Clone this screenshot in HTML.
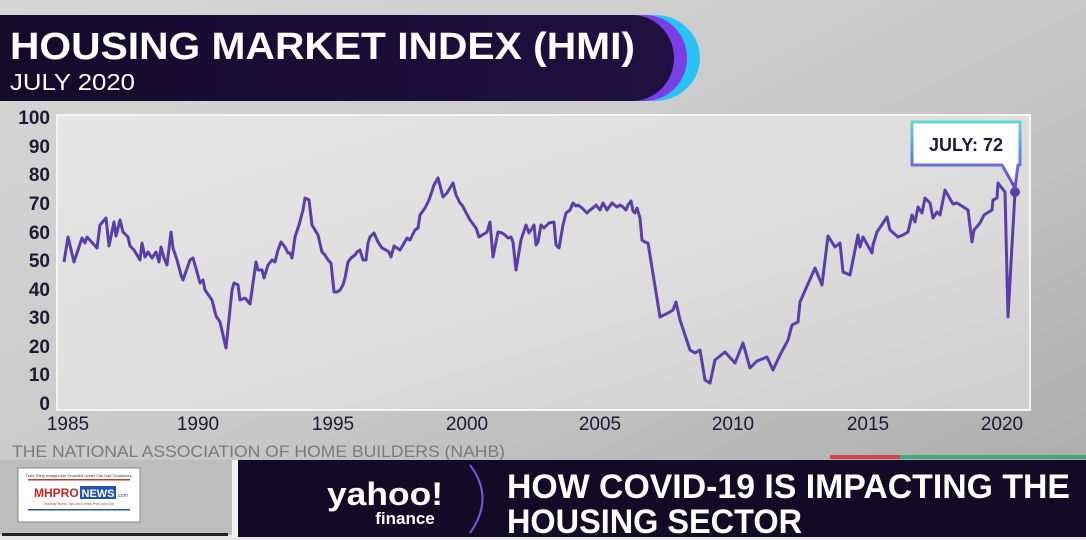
<!DOCTYPE html>
<html><head><meta charset="utf-8"><style>
html,body{margin:0;padding:0;width:1086px;height:540px;overflow:hidden;background:#c4c4c4}
svg{display:block}
text{font-family:"Liberation Sans",sans-serif}
</style></head><body>
<svg width="1086" height="540" viewBox="0 0 1086 540" xmlns="http://www.w3.org/2000/svg">
<defs>
<linearGradient id="bg" x1="0" y1="0" x2="1" y2="1">
<stop offset="0" stop-color="#d6d6d6"/><stop offset="0.5" stop-color="#c9c9c9"/><stop offset="1" stop-color="#a9a9a9"/>
</linearGradient>
<linearGradient id="plot" x1="0" y1="0" x2="1" y2="1">
<stop offset="0" stop-color="#e6e6e6"/><stop offset="0.6" stop-color="#dcdcdc"/><stop offset="1" stop-color="#cfcfcf"/>
</linearGradient>
<linearGradient id="ban" x1="0" y1="0" x2="1" y2="0">
<stop offset="0" stop-color="#140b2b"/><stop offset="1" stop-color="#1f1040"/>
</linearGradient>
<linearGradient id="cb" x1="0" y1="0" x2="0" y2="1">
<stop offset="0" stop-color="#5fd6d6"/><stop offset="1" stop-color="#6a3fd0"/>
</linearGradient>
</defs>
<rect width="1086" height="540" fill="url(#bg)"/>
<!-- title banner -->
<path d="M0 15 H655 A45 43 0 0 1 655 101 H0 Z" fill="#29c4f5"/>
<path d="M0 15 H645 A42 43 0 0 1 645 101 H0 Z" fill="#7a3ee8"/>
<path d="M0 15 H632 A42 43 0 0 1 632 101 H0 Z" fill="url(#ban)"/>
<text x="10" y="59" font-size="38" font-weight="bold" fill="#fff" textLength="625" lengthAdjust="spacingAndGlyphs">HOUSING MARKET INDEX (HMI)</text>
<text x="10" y="90" font-size="23" fill="#fff" textLength="125" lengthAdjust="spacingAndGlyphs">JULY 2020</text>
<!-- plot -->
<rect x="57" y="115" width="973" height="295" fill="url(#plot)" stroke="#f4f4f4" stroke-width="2"/>
<g font-size="19" font-weight="bold" fill="#1e1a33" text-anchor="end">
<text x="50" y="124">100</text><text x="50" y="153">90</text><text x="50" y="181">80</text>
<text x="50" y="210">70</text><text x="50" y="239">60</text><text x="50" y="267">50</text>
<text x="50" y="296">40</text><text x="50" y="324">30</text><text x="50" y="353">20</text>
<text x="50" y="381">10</text><text x="50" y="410">0</text>
</g>
<g font-size="19" fill="#1e1a33" text-anchor="middle">
<text x="68" y="430">1985</text><text x="198" y="430">1990</text><text x="333" y="430">1995</text>
<text x="467" y="430">2000</text><text x="600" y="430">2005</text><text x="733" y="430">2010</text>
<text x="868" y="430">2015</text><text x="1002" y="430">2020</text>
</g>
<polyline fill="none" stroke="#5a3fa8" stroke-width="3" stroke-linejoin="round" points="64,262 68,237 74,262 82,238 85,243 87,237 97,248 100,225 106,218 109,246 114,222 116,236 120,220 123,232 128,237 130,246 134,250 140,260 142,243 145,257 148,252 152,258 156,252 159,262 161,247 164,258 167,265 171,232 173,248 177,260 181,275 183,280 190,260 193,258 197,272 200,283 203,280 205,290 212,300 216,316 220,322 226,348 232,290 234,283 238,285 240,300 245,298 250,304 256,262 258,270 262,270 264,278 268,265 272,260 275,262 278,250 281,242 285,247 288,253 290,253 292,258 295,237 299,225 303,210 305,198 309,200 312,225 318,235 322,252 325,255 328,260 331,263 334,292 337,292 340,290 343,285 345,278 348,262 351,258 355,255 357,252 360,250 363,260 366,260 368,243 370,237 374,233 378,242 382,248 386,250 389,252 391,257 394,246 400,250 403,245 407,238 410,240 415,230 418,228 420,215 425,208 429,200 434,185 438,178 443,197 447,193 453,183 456,195 460,203 462,205 470,220 476,228 479,237 487,232 490,222 493,257 498,232 502,233 505,235 508,238 511,237 513,242 516,270 521,240 526,225 529,233 534,225 536,245 538,242 541,225 544,228 549,223 554,222 556,245 559,248 563,225 566,213 570,210 573,203 576,206 578,205 582,208 587,213 590,210 594,207 596,205 600,210 603,203 607,210 612,203 617,207 620,205 623,207 626,210 628,205 631,201 633,211 635,213 637,208 640,218 642,240 645,242 648,243 660,317 668,313 673,310 676,302 680,320 690,350 695,353 700,350 702,362 705,380 710,383 715,360 725,352 735,363 743,343 750,368 757,361 767,357 773,370 780,355 788,340 792,325 798,322 800,302 815,268 822,285 828,236 835,247 840,243 843,272 850,275 858,235 860,247 863,237 872,253 873,245 877,232 887,217 890,230 898,237 903,235 908,232 912,215 915,222 918,207 922,213 925,198 930,203 933,218 937,212 940,215 945,190 953,204 957,203 965,208 968,210 972,242 974,230 980,223 984,215 992,210 993,200 997,198 998,183 1005,192 1008,317 1015,192"/>
<circle cx="1015" cy="192" r="5" fill="#5a3fa8"/>
<!-- callout -->
<path d="M912 122 H1020 V165 H1018 L1015 188 L1002 165 H912 Z" fill="#fff" stroke="url(#cb)" stroke-width="3" stroke-linejoin="round"/>
<text x="966" y="151" font-size="18" font-weight="bold" fill="#1e1a33" text-anchor="middle">JULY: 72</text>
<!-- source -->
<text x="12" y="457" font-size="17" fill="#7a7a7a" textLength="493" lengthAdjust="spacingAndGlyphs">THE NATIONAL ASSOCIATION OF HOME BUILDERS (NAHB)</text>
<!-- bottom -->
<rect x="0" y="460" width="232" height="80" fill="#bdbdbd"/>
<rect x="0" y="535" width="1086" height="5" fill="#e8e8e8"/>
<rect x="2" y="533" width="226" height="3" fill="#222"/>
<rect x="18" y="468" width="122" height="54" fill="#fff" stroke="#888" stroke-width="1"/>
<text x="79" y="477" font-size="4" fill="#333" text-anchor="middle">Third Party Images Are Provided Under Fair Use Guidelines.</text>
<rect x="28" y="479" width="102" height="1.5" fill="#c33"/>
<text x="34" y="497" font-size="12" font-weight="bold" fill="#c22">MHPRO</text>
<rect x="80" y="486" width="36" height="13" fill="#2255aa"/>
<text x="98" y="497" font-size="11" font-weight="bold" fill="#fff" text-anchor="middle">NEWS</text>
<text x="117" y="497" font-size="5" fill="#2255aa">.com</text>
<text x="79" y="505" font-size="3.5" fill="#c33" text-anchor="middle">Industry News, Tips and Views Pros can Use</text>
<rect x="28" y="509" width="102" height="1.5" fill="#2255aa"/>
<rect x="232" y="460" width="6" height="78" fill="#f2f2f2"/>
<rect x="238" y="460" width="848" height="77" fill="#130a26"/>
<rect x="830" y="455" width="70" height="4" fill="#d0454a"/>
<rect x="900" y="455" width="186" height="4" fill="#3fae7e"/>
<path d="M470 465 Q495 498 470 533" fill="none" stroke="#7a55e0" stroke-width="2"/>
<text x="385" y="505" font-size="32" font-weight="bold" fill="#fff" text-anchor="middle" textLength="116" lengthAdjust="spacingAndGlyphs">yahoo!</text>
<text x="405" y="524" font-size="17" font-weight="bold" fill="#fff" text-anchor="middle">finance</text>
<text x="507" y="498" font-size="34" font-weight="bold" fill="#fff" textLength="563" lengthAdjust="spacingAndGlyphs">HOW COVID-19 IS IMPACTING THE</text>
<text x="507" y="533" font-size="34" font-weight="bold" fill="#fff" textLength="295" lengthAdjust="spacingAndGlyphs">HOUSING SECTOR</text>
</svg>
</body></html>
